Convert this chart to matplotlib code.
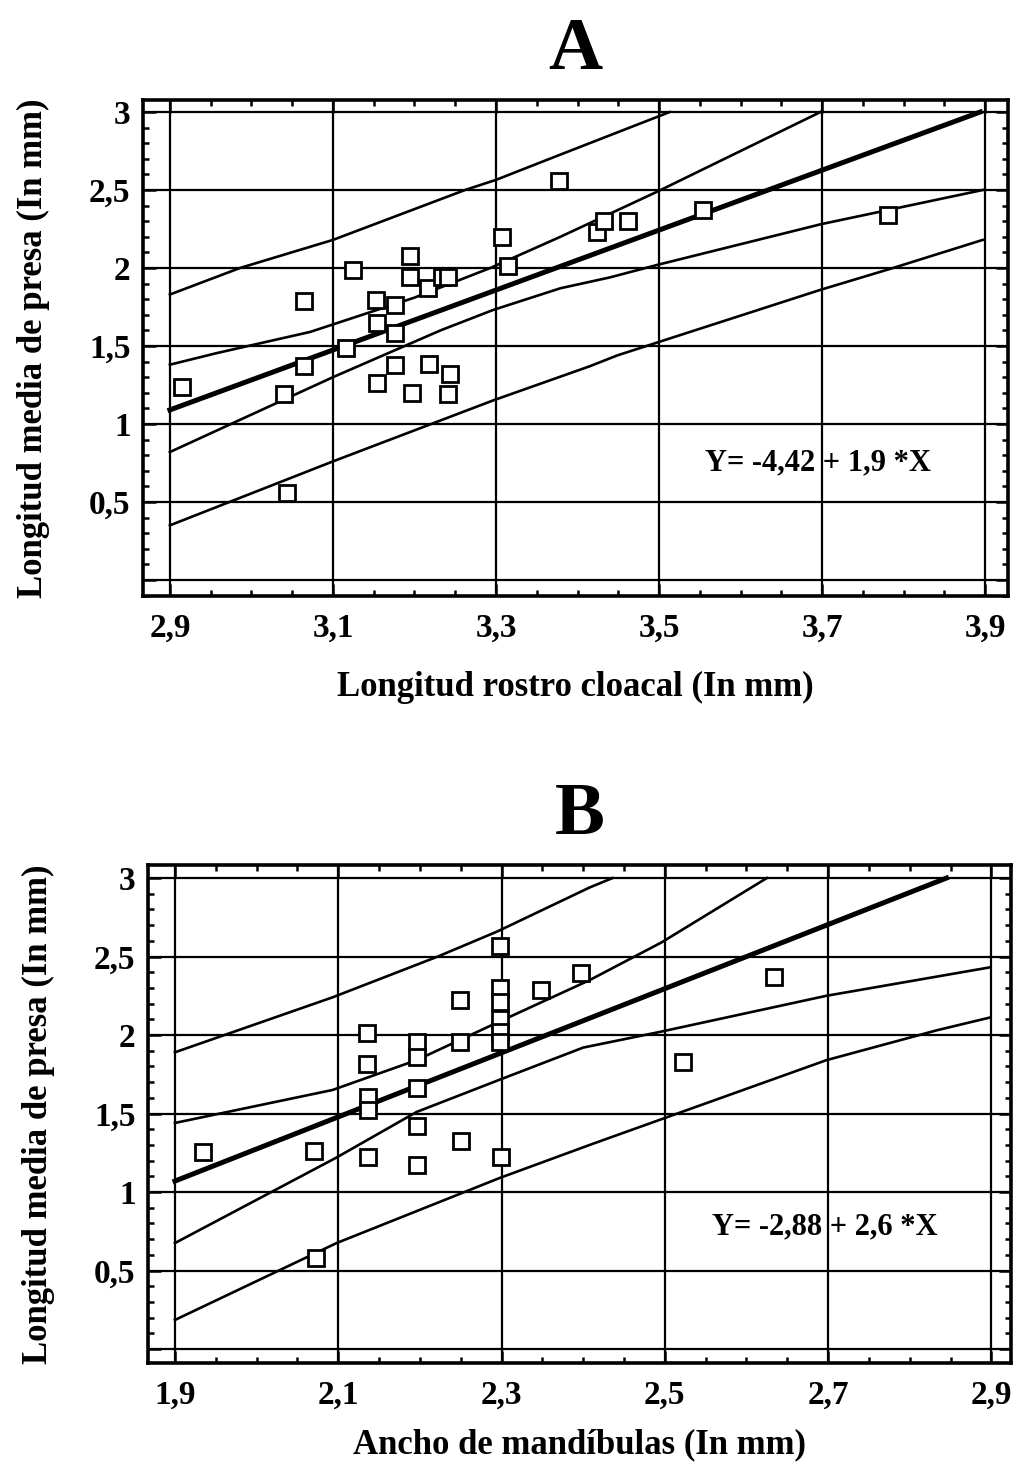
import numpy as np
import matplotlib
matplotlib.use("Agg")
import matplotlib.pyplot as plt
from matplotlib.ticker import MultipleLocator, FuncFormatter

plt.rcParams['font.family'] = ['Liberation Serif', 'DejaVu Serif']
plt.rcParams['font.weight'] = 'bold'

# ---- panel A: Longitud rostro cloacal vs longitud media de presa ----
pts_a_x = [2.915, 3.04, 3.044, 3.064, 3.064, 3.116, 3.124, 3.153, 3.154, 3.154,
           3.176, 3.176, 3.176, 3.194, 3.194, 3.197, 3.217, 3.218, 3.234, 3.241,
           3.244, 3.241, 3.307, 3.315, 3.377, 3.424, 3.433, 3.462, 3.554, 3.781]
pts_a_y = [1.24, 1.19, 0.56, 1.79, 1.37, 1.49, 1.99, 1.795, 1.65, 1.26,
           1.76, 1.58, 1.38, 2.08, 1.94, 1.20, 1.87, 1.385, 1.94, 1.94,
           1.32, 1.19, 2.20, 2.01, 2.56, 2.23, 2.30, 2.30, 2.37, 2.34]

reg_a_x = [2.9, 3.894]
reg_a_y = [1.09, 3.0]
up_conf_a_x = [2.9, 2.958, 3.072, 3.2, 3.293, 3.379, 3.498, 3.698]
up_conf_a_y = [1.38, 1.455, 1.59, 1.81, 2.0, 2.2, 2.49, 3.0]
lo_conf_a_x = [2.9, 3.1, 3.232, 3.296, 3.379, 3.44, 3.498, 3.698, 3.897]
lo_conf_a_y = [0.82, 1.30, 1.60, 1.73, 1.87, 1.94, 2.02, 2.28, 2.5]
up_pred_a_x = [2.9, 2.986, 3.1, 3.262, 3.3, 3.378, 3.513]
up_pred_a_y = [1.83, 2.0, 2.18, 2.5, 2.565, 2.725, 3.0]
lo_pred_a_x = [2.9, 3.1, 3.296, 3.415, 3.449, 3.698, 3.787, 3.897]
lo_pred_a_y = [0.35, 0.76, 1.15, 1.37, 1.44, 1.86, 2.0, 2.18]

# ---- panel B: Ancho de mandibulas vs longitud media de presa ----
pts_b_x = [1.934, 2.070, 2.073, 2.135, 2.135, 2.136, 2.136, 2.136, 2.197, 2.197,
           2.197, 2.197, 2.197, 2.249, 2.249, 2.250, 2.298, 2.298, 2.298, 2.298,
           2.298, 2.298, 2.299, 2.348, 2.397, 2.522, 2.634]
pts_b_y = [1.255, 1.26, 0.58, 2.01, 1.815, 1.605, 1.52, 1.22, 1.955, 1.86,
           1.66, 1.42, 1.17, 2.22, 1.955, 1.325, 2.57, 2.30, 2.21, 2.10,
           2.02, 1.955, 1.22, 2.29, 2.395, 1.83, 2.37]

reg_b_x = [1.9, 2.845]
reg_b_y = [1.07, 3.0]
up_conf_b_x = [1.9, 2.093, 2.196, 2.295, 2.408, 2.496, 2.625]
up_conf_b_y = [1.44, 1.65, 1.84, 2.08, 2.35, 2.59, 3.0]
lo_conf_b_x = [1.9, 2.098, 2.196, 2.295, 2.4, 2.494, 2.698, 2.897]
lo_conf_b_y = [0.675, 1.22, 1.51, 1.71, 1.92, 2.02, 2.25, 2.43]
up_pred_b_x = [1.9, 2.093, 2.222, 2.295, 2.408, 2.436]
up_pred_b_y = [1.89, 2.24, 2.50, 2.66, 2.94, 3.0]
lo_pred_b_x = [1.9, 2.098, 2.298, 2.408, 2.424, 2.698, 2.833, 2.897]
lo_pred_b_y = [0.185, 0.675, 1.09, 1.30, 1.33, 1.84, 2.03, 2.11]

W, H = 1013, 1467
fig = plt.figure(figsize=(W / 100, H / 100), dpi=100)


def px_axes(left, top, right, bottom):
    # rectangle given in pixel coords of the picture
    return fig.add_axes([left / W, 1 - bottom / H, (right - left) / W, (bottom - top) / H])


def comma(v, pos):
    if abs(v) < 1e-9:
        return ''
    s = ('%.1f' % v).rstrip('0').rstrip('.')
    return s.replace('.', ',')


def panel(ax, xlim, ylim, x0, pts_x, pts_y, bands, reg, title, xlabel, eq, eq_xy, xpad):
    ax.set_xlim(*xlim)
    ax.set_ylim(*ylim)
    ax.xaxis.set_major_locator(MultipleLocator(0.2))
    ax.xaxis.set_minor_locator(MultipleLocator(0.05))
    ax.yaxis.set_major_locator(MultipleLocator(0.5))
    ax.yaxis.set_minor_locator(MultipleLocator(0.1))
    ax.set_xticks(np.round(np.arange(x0, x0 + 1.01, 0.2), 2))
    ax.xaxis.set_major_formatter(FuncFormatter(comma))
    ax.yaxis.set_major_formatter(FuncFormatter(comma))
    ax.grid(True, which='major', color='black', lw=1.6)
    ax.tick_params(which='both', direction='in', top=True, right=True, width=1.8, labelsize=24)
    ax.tick_params(which='major', length=9, pad=12)
    ax.tick_params(which='minor', length=4)
    ax.tick_params(axis='y', which='major', pad=9)
    for sp in ax.spines.values():
        sp.set_linewidth(2.6)
    for bx, by in bands:
        ax.plot(bx, by, color='black', lw=1.9)
    ax.plot(reg[0], reg[1], color='black', lw=3.6)
    ax.plot(pts_x, pts_y, ls='none', marker='s', ms=12, mfc='white', mec='black', mew=2.0)
    ax.text(eq_xy[0], eq_xy[1], eq, fontsize=22, fontweight='bold', ha='center', va='center')
    ax.set_title(title, fontsize=54, fontweight='bold', pad=22)
    ax.set_xlabel(xlabel, fontsize=25, fontweight='bold', labelpad=xpad)
    ax.set_ylabel('Longitud media de presa (In mm)', fontsize=25, fontweight='bold', labelpad=28)


ax_a = px_axes(143, 100, 1008, 596)
panel(ax_a, (2.867, 3.928), (-0.103, 3.077), 2.9, pts_a_x, pts_a_y,
      [(up_conf_a_x, up_conf_a_y), (lo_conf_a_x, lo_conf_a_y),
       (up_pred_a_x, up_pred_a_y), (lo_pred_a_x, lo_pred_a_y)],
      (reg_a_x, reg_a_y), 'A', 'Longitud rostro cloacal (In mm)',
      'Y= -4,42 + 1,9 *X', (3.695, 0.75), 20)

ax_b = px_axes(148, 865, 1011, 1363)
panel(ax_b, (1.867, 2.924), (-0.089, 3.083), 1.9, pts_b_x, pts_b_y,
      [(up_conf_b_x, up_conf_b_y), (lo_conf_b_x, lo_conf_b_y),
       (up_pred_b_x, up_pred_b_y), (lo_pred_b_x, lo_pred_b_y)],
      (reg_b_x, reg_b_y), 'B', u'Ancho de mand\u00edbulas (In mm)',
      'Y= -2,88 + 2,6 *X', (2.696, 0.78), 13)

fig.savefig('out.png', dpi=100)
